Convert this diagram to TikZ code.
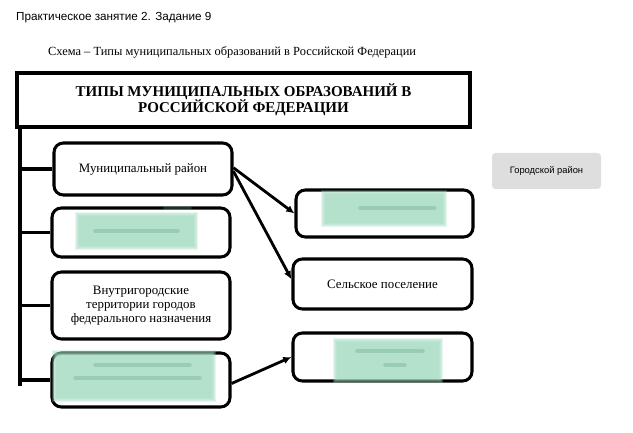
\documentclass[tikz,border=0pt]{standalone}
\usepackage{fontspec}
\setmainfont{Liberation Serif}
\newfontfamily\arialfont{Liberation Sans}
\usetikzlibrary{arrows.meta}
\definecolor{mint}{HTML}{9FD8BD}
\definecolor{mintdark}{HTML}{5E9C80}
\definecolor{greybox}{HTML}{DEDEDE}

% blurred answer patch: x1,y1,x2,y2
\newcommand\blotch[4]{%
 \foreach \k in {0,...,4}{\fill[mint,opacity=0.26] (#1+\k,#2+\k) rectangle (#3-\k,#4-\k);}}

\begin{document}
\begin{tikzpicture}[x=0.03cm,y=-0.03cm,
  box/.style={draw,line width=2.6pt,rounded corners=8pt,align=center,
    minimum width=5.34cm,font=\fontsize{11}{12.2}\selectfont},
  link/.style={line width=2.6pt},
  arr/.style={line width=2.4pt,-{Latex[length=7pt,width=6.5pt]}}]
 \useasboundingbox (0,0) rectangle (633,433);
 \node[anchor=west,font=\arialfont\fontsize{10}{12}\selectfont] (head) at (12,18) {Практическое занятие 2. Задание 9};
 \node[anchor=west,font=\fontsize{10.6}{13}\selectfont] (cap) at (44,52) {Схема – Типы муниципальных образований в Российской Федерации};
 \node[draw,line width=2.6pt,minimum width=13.59cm,minimum height=1.62cm,align=center,
   font=\bfseries\fontsize{12.8}{14}\selectfont] (title) at (243.5,100) {ТИПЫ МУНИЦИПАЛЬНЫХ ОБРАЗОВАНИЙ В\\РОССИЙСКОЙ ФЕДЕРАЦИИ};
 % left column
 \node[box,minimum height=1.56cm] (mr) at (143,169) {Муниципальный район};
 \node[box,minimum height=1.47cm] (l2) at (141,232.5) {};
 \node[box,minimum height=2.01cm] (vt) at (141,305.5) {Внутригородские\\территории городов\\федерального назначения};
 \node[box,minimum height=1.62cm] (l4) at (141,380) {};
 % right column
 \node[box,minimum width=5.31cm,minimum height=1.41cm] (r1) at (384.5,213.5) {};
 \node[box,minimum width=5.37cm,minimum height=1.5cm] (sp) at (382.5,284) {Сельское поселение};
 \node[box,minimum width=5.37cm,minimum height=1.44cm] (r3) at (382.5,357) {};
 \node[fill=greybox,rounded corners=3pt,minimum width=3.27cm,minimum height=1.08cm,
   font=\arialfont\fontsize{8}{10}\selectfont] (gr) at (546.5,171) {Городской район};
 % spine
 \coordinate (top) at (20,127);
 \coordinate (bot) at (20,386);
 \draw[link] (top)--(bot);
 \foreach \n in {mr,l2,vt,l4}{\draw[link] (top|-\n.west)--(\n.west);}
 \draw[arr] ([yshift=1pt]mr.east)--(r1.west);
 \draw[arr] ([yshift=-2pt]mr.east)--([yshift=4pt]sp.west);
 \draw[arr] ([yshift=-3pt]l4.east)--(r3.west);
 % blurred answers
 \blotch{75}{212}{198}{250}
 \blotch{52}{350}{216}{402}
 \blotch{321}{190}{447}{227}
 \blotch{333}{338}{443}{383}
 \foreach \a/\b/\c in {95/178/231,95/190/365,75/200/378,165/190/208,360/435/208,357/423/351,385/405/365}{
  \draw[mintdark,opacity=0.3,line width=3pt,line cap=round] (\a,\c)--(\b,\c);}
\end{tikzpicture}
\end{document}
